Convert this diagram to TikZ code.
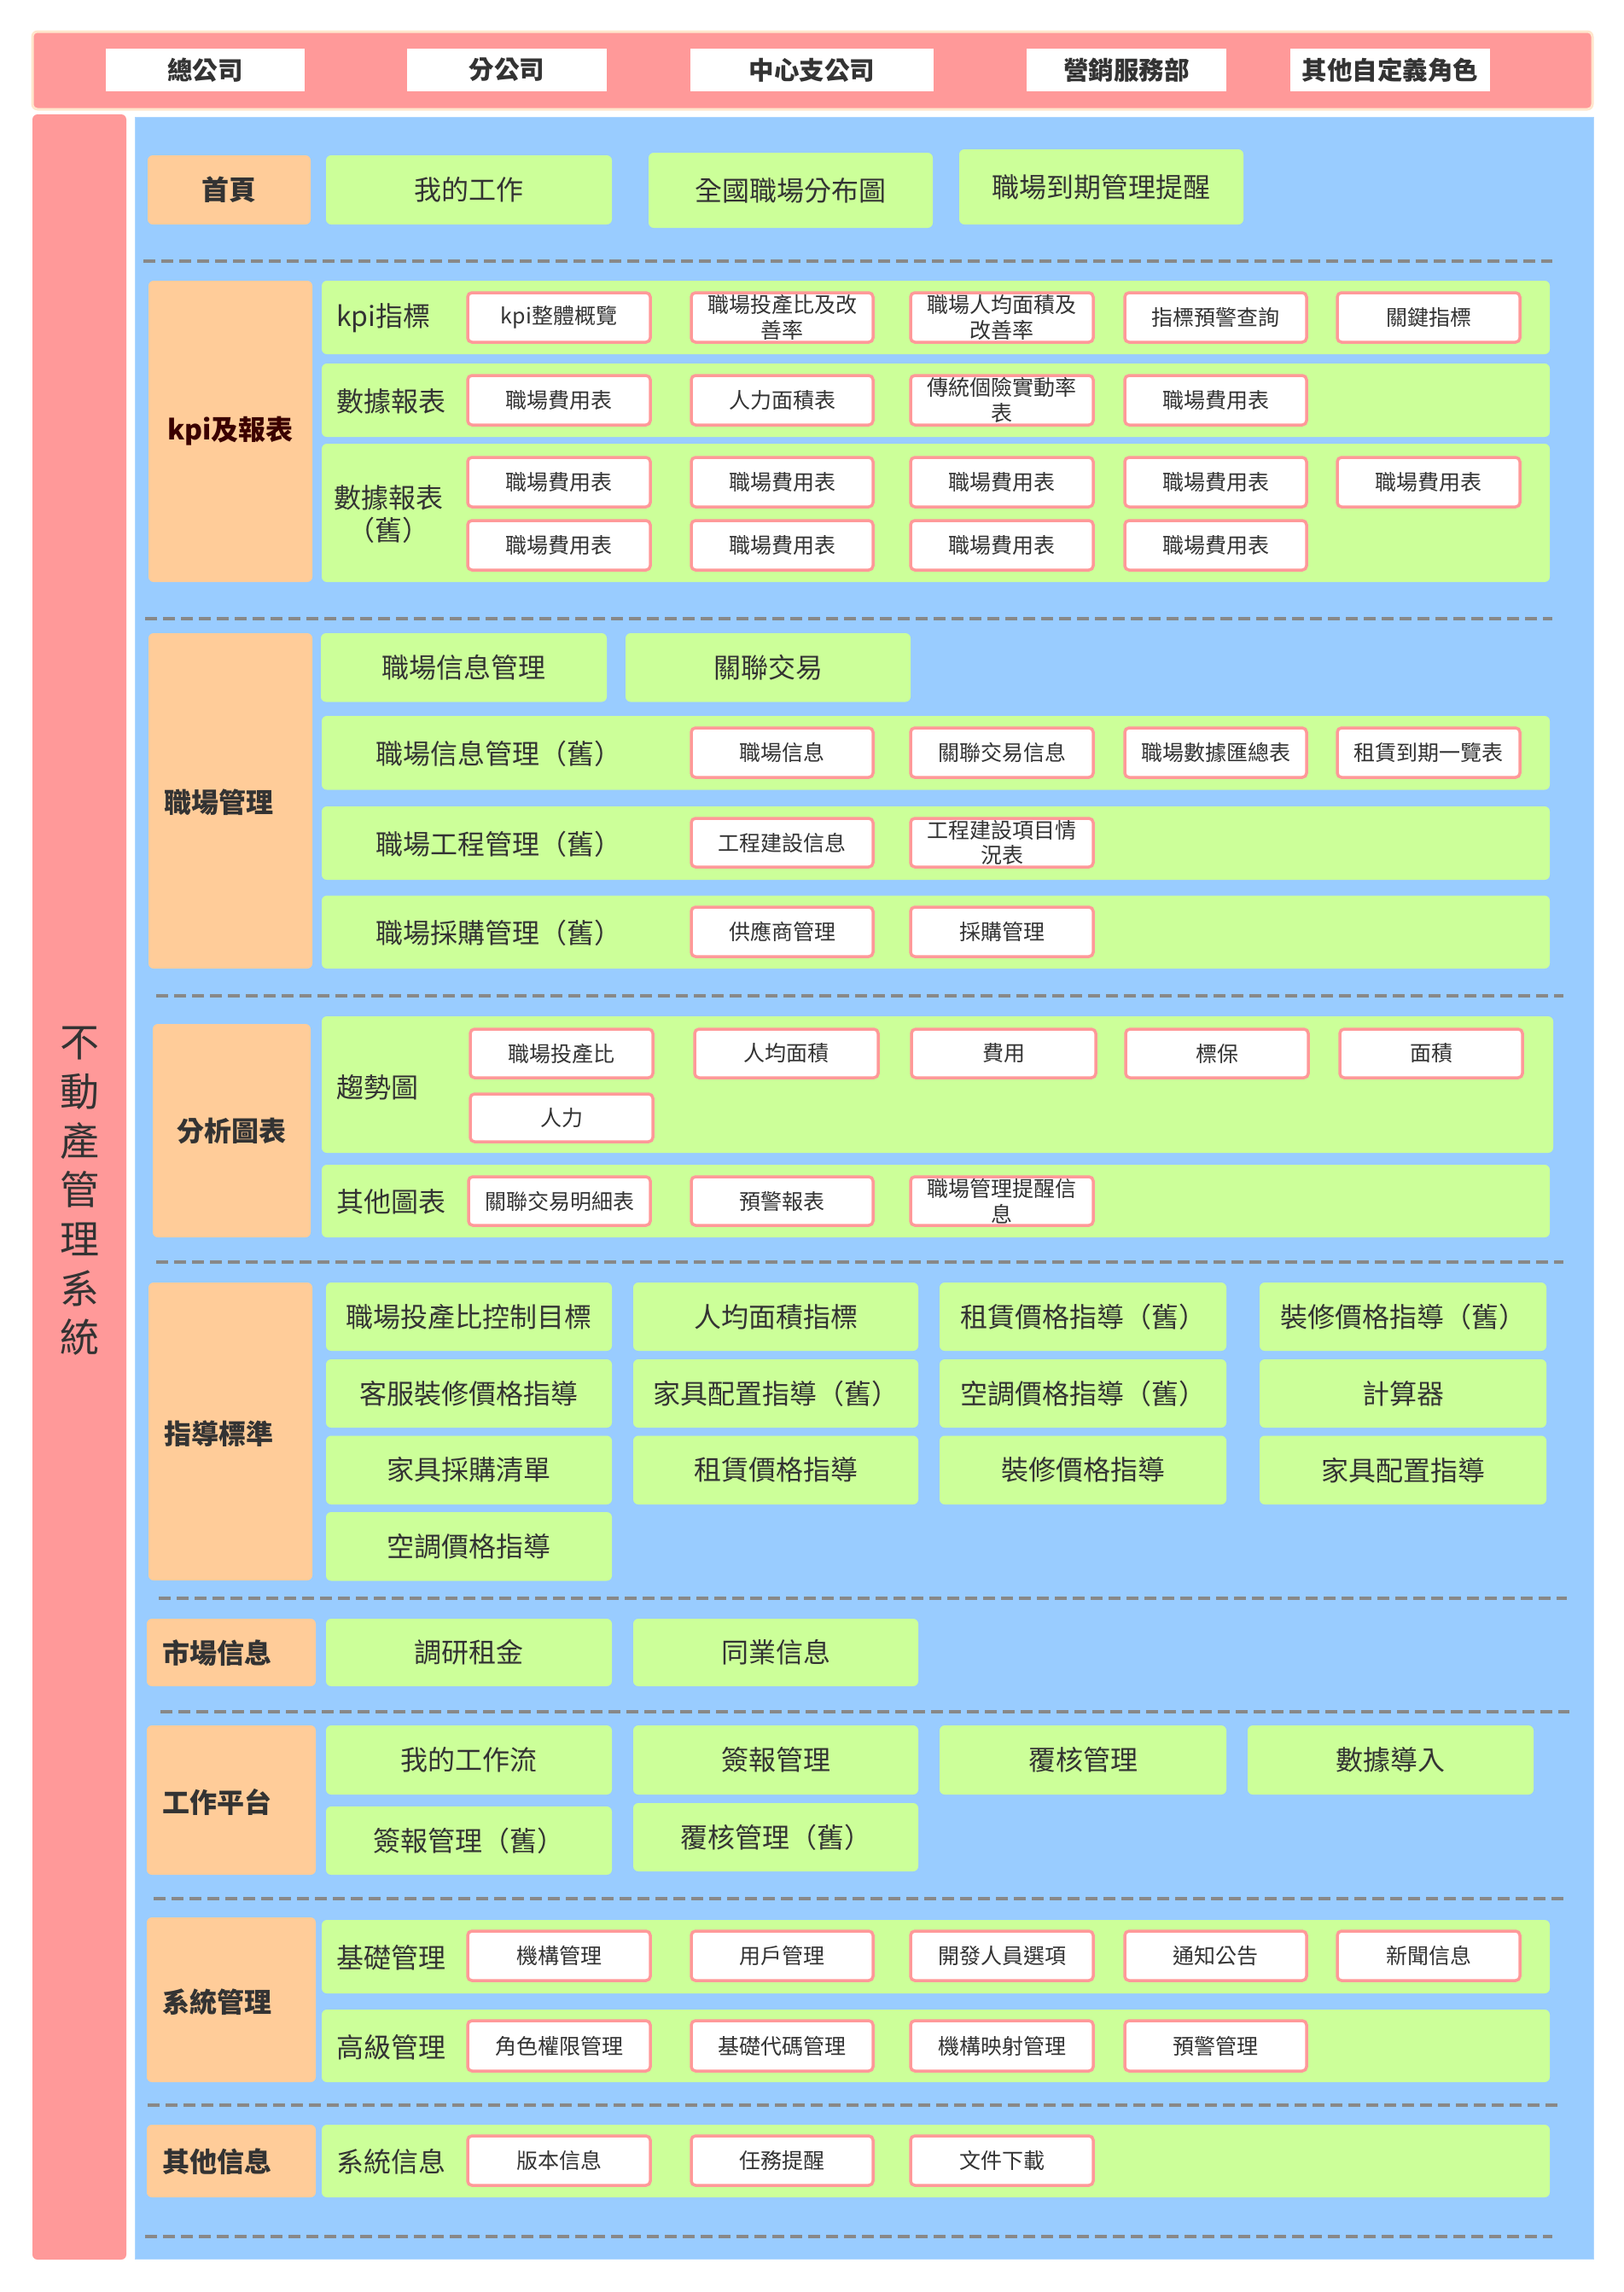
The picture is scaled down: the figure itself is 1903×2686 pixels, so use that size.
\documentclass[tikz,border=0pt]{standalone}
\usepackage{fontspec}
\setmainfont{Noto Sans CJK TC}
\definecolor{pnk}{HTML}{FF9999}
\definecolor{peach}{HTML}{FFE6CC}
\definecolor{blu}{HTML}{99CCFF}
\definecolor{orng}{HTML}{FFCC99}
\definecolor{grn}{HTML}{CCFF99}
\definecolor{dgray}{HTML}{888888}
\definecolor{txt}{HTML}{333333}
\definecolor{maroon}{HTML}{3A0000}
\newcommand{\bx}[7]{\node[#6,minimum width={(#4)-(#2)},minimum height={(#5)-(#3)}] (#1) at ({((#2)+(#4))/2},{((#3)+(#5))/2}) {#7};}
\tikzset{
  hdr/.style={fill=white, inner sep=0, outer sep=0, font=\fontsize{29.5}{34}\selectfont\bfseries, text=txt},
  catbox/.style={fill=orng, rounded corners=6, inner sep=0, outer sep=0, font=\fontsize{32}{38}\selectfont\bfseries, text=txt},
  grnbox/.style={fill=grn, rounded corners=6, inner sep=0, outer sep=0, font=\fontsize{32}{38}\selectfont, text=txt, align=center},
  wbox/.style={fill=white, draw=pnk, line width=3.5, rounded corners=5, inner sep=0, outer sep=0, font=\fontsize{25}{29.5}\selectfont, text=txt, align=center},
  rowlbl/.style={inner sep=0, font=\fontsize{32}{38}\selectfont, text=txt, anchor=west, align=center},
  catlbl/.style={inner sep=0, font=\fontsize{32}{38}\selectfont\bfseries, text=txt, anchor=west},
  sepline/.style={draw=dgray, line width=4, dash pattern=on 14 off 7},
}
\begin{document}
\begin{tikzpicture}[x=1pt,y=-1pt]
\useasboundingbox (0,0) rectangle (1903,2686);
\fill[white] (0,0) rectangle (1903,2686);
% top bar
\bx{topbar}{38}{37}{1866}{128}{fill=pnk,draw=peach,line width=3,rounded corners=6,inner sep=0}{}
\bx{h1}{124}{57}{357}{107}{hdr}{總公司}
\bx{h2}{477}{57}{711}{107}{hdr}{分公司}
\bx{h3}{809}{57}{1094}{107}{hdr}{中心支公司}
\bx{h4}{1203}{57}{1437}{107}{hdr}{營銷服務部}
\bx{h5}{1512}{57}{1746}{107}{hdr}{其他自定義角色}
% left column
\bx{leftcol}{38}{134}{148}{2648}{fill=pnk,rounded corners=6,inner sep=0}{}
\node[inner sep=0, align=center, text=txt, font=\fontsize{46}{57.7}\selectfont] (title) at (93,1396) {不\\動\\產\\管\\理\\系\\統};
% blue panel
\bx{panel}{158}{137}{1867}{2647}{fill=blu,draw=blu!80!white,line width=1,inner sep=0}{}
% row 0
\bx{home}{173}{182}{364}{263}{catbox}{首頁}
\bx{mywork}{382}{182}{717}{263}{grnbox}{我的工作}
\bx{natmap}{760}{179}{1093}{267}{grnbox}{全國職場分布圖}
\bx{expire}{1124}{175}{1457}{263}{grnbox}{職場到期管理提醒}
\draw[sepline] (168,306) -- (1819,306);
% kpi section
\bx{kpicat}{174}{329}{366}{682}{catbox,text=maroon}{kpi及報表}
\bx{kpirow}{377}{329}{1816}{415}{grnbox}{}
\node[rowlbl] (kpilbl) at (394,373) {kpi指標};
\bx{k1}{548}{343}{762}{401}{wbox}{kpi整體概覽}
\bx{k2}{810}{343}{1023}{401}{wbox}{職場投產比及改\\善率}
\bx{k3}{1067}{343}{1281}{401}{wbox}{職場人均面積及\\改善率}
\bx{k4}{1318}{343}{1531}{401}{wbox}{指標預警查詢}
\bx{k5}{1567}{343}{1781}{401}{wbox}{關鍵指標}
\bx{dbrow}{377}{426}{1816}{512}{grnbox}{}
\node[rowlbl] (dblbl) at (394,470) {數據報表};
\bx{d1}{548}{440}{762}{498}{wbox}{職場費用表}
\bx{d2}{810}{440}{1023}{498}{wbox}{人力面積表}
\bx{d3}{1067}{440}{1281}{498}{wbox}{傳統個險實動率\\表}
\bx{d4}{1318}{440}{1531}{498}{wbox}{職場費用表}
\bx{dborow}{377}{520}{1816}{682}{grnbox}{}
\node[rowlbl,anchor=center] (dbolbl) at (455,603) {數據報表\\（舊）};
\bx{o1}{548}{536}{762}{594}{wbox}{職場費用表}
\bx{o2}{810}{536}{1023}{594}{wbox}{職場費用表}
\bx{o3}{1067}{536}{1281}{594}{wbox}{職場費用表}
\bx{o4}{1318}{536}{1531}{594}{wbox}{職場費用表}
\bx{o5}{1567}{536}{1781}{594}{wbox}{職場費用表}
\bx{o6}{548}{610}{762}{668}{wbox}{職場費用表}
\bx{o7}{810}{610}{1023}{668}{wbox}{職場費用表}
\bx{o8}{1067}{610}{1281}{668}{wbox}{職場費用表}
\bx{o9}{1318}{610}{1531}{668}{wbox}{職場費用表}
\draw[sepline] (170,724.5) -- (1819,724.5);
% workplace management
\bx{wpcat}{174}{742}{366}{1135}{catbox}{}
\node[catlbl] (wplbl) at (192,940) {職場管理};
\bx{wpinfo}{376}{742}{711}{822.5}{grnbox}{職場信息管理}
\bx{wprel}{733}{742}{1067}{822.5}{grnbox}{關聯交易}
\bx{wprowb}{377}{839}{1816}{925.5}{grnbox}{}
\node[rowlbl] (wplblb) at (440,883) {職場信息管理（舊）};
\bx{wb2}{810}{853}{1023}{911}{wbox}{職場信息}
\bx{wb3}{1067}{853}{1281}{911}{wbox}{關聯交易信息}
\bx{wb4}{1318}{853}{1531}{911}{wbox}{職場數據匯總表}
\bx{wb5}{1567}{853}{1781}{911}{wbox}{租賃到期一覽表}
\bx{wprowc}{377}{945}{1816}{1031}{grnbox}{}
\node[rowlbl] (wplblc) at (440,989) {職場工程管理（舊）};
\bx{wc2}{810}{959}{1023}{1016}{wbox}{工程建設信息}
\bx{wc3}{1067}{959}{1281}{1016}{wbox}{工程建設項目情\\況表}
\bx{wprowd}{377}{1049.5}{1816}{1135}{grnbox}{}
\node[rowlbl] (wplbld) at (440,1093) {職場採購管理（舊）};
\bx{wd2}{810}{1063}{1023}{1121}{wbox}{供應商管理}
\bx{wd3}{1067}{1063}{1281}{1121}{wbox}{採購管理}
\draw[sepline] (183,1167) -- (1832,1167);
% analysis charts
\bx{ancat}{179}{1200}{364}{1450}{catbox}{分析圖表}
\bx{trendrow}{377}{1191}{1820}{1351}{grnbox}{}
\node[rowlbl] (trendlbl) at (394,1274) {趨勢圖};
\bx{t1}{551}{1206}{765}{1263}{wbox}{職場投產比}
\bx{t2}{814}{1206}{1029}{1263}{wbox}{人均面積}
\bx{t3}{1068}{1206}{1284}{1263}{wbox}{費用}
\bx{t4}{1319}{1206}{1533}{1263}{wbox}{標保}
\bx{t5}{1570}{1206}{1784}{1263}{wbox}{面積}
\bx{t6}{551}{1282}{765}{1338}{wbox}{人力}
\bx{otherrow}{377}{1365}{1816}{1450}{grnbox}{}
\node[rowlbl] (otherlbl) at (394,1408) {其他圖表};
\bx{q1}{549}{1379}{762}{1436}{wbox}{關聯交易明細表}
\bx{q2}{810}{1379}{1023}{1436}{wbox}{預警報表}
\bx{q3}{1067}{1379}{1281}{1436}{wbox}{職場管理提醒信\\息}
\draw[sepline] (183,1479) -- (1832,1479);
% guidance standards
\bx{gdcat}{174}{1503}{366}{1852}{catbox}{}
\node[catlbl] (gdlbl) at (192,1680) {指導標準};
\bx{g11}{382}{1503}{717}{1583}{grnbox}{職場投產比控制目標}
\bx{g12}{742}{1503}{1076}{1583}{grnbox}{人均面積指標}
\bx{g13}{1101}{1503}{1437}{1583}{grnbox}{租賃價格指導（舊）}
\bx{g14}{1476}{1503}{1812}{1583}{grnbox}{裝修價格指導（舊）}
\bx{g21}{382}{1593}{717}{1673}{grnbox}{客服裝修價格指導}
\bx{g22}{742}{1593}{1076}{1673}{grnbox}{家具配置指導（舊）}
\bx{g23}{1101}{1593}{1437}{1673}{grnbox}{空調價格指導（舊）}
\bx{g24}{1476}{1593}{1812}{1673}{grnbox}{計算器}
\bx{g31}{382}{1682.5}{717}{1763}{grnbox}{家具採購清單}
\bx{g32}{742}{1682.5}{1076}{1763}{grnbox}{租賃價格指導}
\bx{g33}{1101}{1682.5}{1437}{1763}{grnbox}{裝修價格指導}
\bx{g34}{1476}{1682.5}{1812}{1763}{grnbox}{家具配置指導}
\bx{g41}{382}{1772}{717}{1852.5}{grnbox}{空調價格指導}
\draw[sepline] (186,1873) -- (1836,1873);
% market info
\bx{mkcat}{172}{1897}{370}{1976}{catbox}{}
\node[catlbl] (mklbl) at (190,1937.5) {市場信息};
\bx{mk1}{382}{1897}{717}{1976}{grnbox}{調研租金}
\bx{mk2}{742}{1897}{1076}{1976}{grnbox}{同業信息}
\draw[sepline] (188,2005.5) -- (1839,2005.5);
% work platform
\bx{wkcat}{172}{2022}{370}{2197}{catbox}{}
\node[catlbl] (wklbl) at (190,2112) {工作平台};
\bx{wk1}{382}{2022}{717}{2103}{grnbox}{我的工作流}
\bx{wk2}{742}{2022}{1076}{2103}{grnbox}{簽報管理}
\bx{wk3}{1101}{2022}{1437}{2103}{grnbox}{覆核管理}
\bx{wk4}{1462}{2022}{1797}{2103}{grnbox}{數據導入}
\bx{wk5}{382}{2117}{717}{2197}{grnbox}{簽報管理（舊）}
\bx{wk6}{742}{2113}{1076}{2193}{grnbox}{覆核管理（舊）}
\draw[sepline] (180,2225) -- (1833,2225);
% system management
\bx{sycat}{172}{2247}{370}{2440}{catbox}{}
\node[catlbl] (sylbl) at (190,2346) {系統管理};
\bx{basicrow}{377}{2250}{1816}{2336}{grnbox}{}
\node[rowlbl] (basiclbl) at (394,2294) {基礎管理};
\bx{s1}{548}{2263}{762}{2321}{wbox}{機構管理}
\bx{s2}{810}{2263}{1023}{2321}{wbox}{用戶管理}
\bx{s3}{1067}{2263}{1281}{2321}{wbox}{開發人員選項}
\bx{s4}{1318}{2263}{1531}{2321}{wbox}{通知公告}
\bx{s5}{1567}{2263}{1781}{2321}{wbox}{新聞信息}
\bx{advrow}{377}{2355}{1816}{2440}{grnbox}{}
\node[rowlbl] (advlbl) at (394,2399) {高級管理};
\bx{a1}{548}{2368}{762}{2427}{wbox}{角色權限管理}
\bx{a2}{810}{2368}{1023}{2427}{wbox}{基礎代碼管理}
\bx{a3}{1067}{2368}{1281}{2427}{wbox}{機構映射管理}
\bx{a4}{1318}{2368}{1531}{2427}{wbox}{預警管理}
\draw[sepline] (173,2467) -- (1827,2467);
% other info
\bx{otcat}{172}{2490}{370}{2575}{catbox}{}
\node[catlbl] (otlbl) at (190,2533.5) {其他信息};
\bx{sysrow}{377}{2490}{1816}{2575}{grnbox}{}
\node[rowlbl] (syslbl) at (394,2533.5) {系統信息};
\bx{v1}{548}{2503}{762}{2561}{wbox}{版本信息}
\bx{v2}{810}{2503}{1023}{2561}{wbox}{任務提醒}
\bx{v3}{1067}{2503}{1281}{2561}{wbox}{文件下載}
\draw[sepline] (170,2621) -- (1819,2621);
\end{tikzpicture}
\end{document}
